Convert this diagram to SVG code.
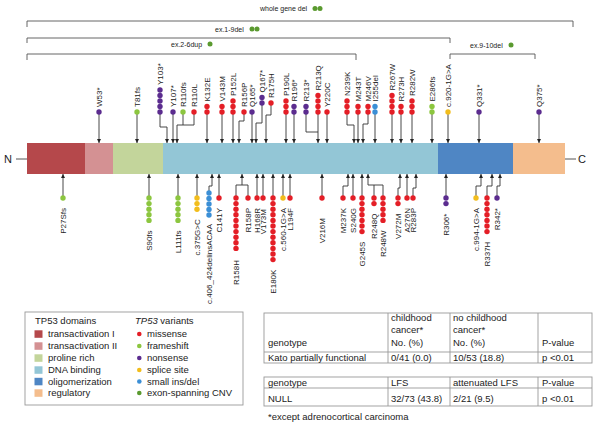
<svg xmlns="http://www.w3.org/2000/svg" width="600" height="425" viewBox="0 0 600 425">
<defs>
<marker id="ah" viewBox="0 0 6 6" refX="6" refY="3" markerWidth="4" markerHeight="4" orient="auto" markerUnits="userSpaceOnUse"><path d="M0,0 L6,3 L0,6 z" fill="#222"/></marker>
<style>
.lbl{font-family:"Liberation Sans",Arial,sans-serif;font-size:8px;fill:#222}
.lo{text-anchor:end}
.t{font-family:"Liberation Sans",Arial,sans-serif;font-size:9.5px;fill:#222}
.bt{font-family:"Liberation Sans",Arial,sans-serif;font-size:7px;fill:#222}
.m{fill:#e41e26}.f{fill:#8cc63f}.n{fill:#5b2c8f}.s{fill:#f2bd1c}.d{fill:#3b8fd6}.c{fill:#5a9a2f}
.cn{fill:none;stroke:#333;stroke-width:0.9}
.arr{marker-end:url(#ah)}
.br{fill:none;stroke:#555;stroke-width:0.9}
.tb{fill:none;stroke:#999;stroke-width:0.9}
</style>
</defs>
<rect width="600" height="425" fill="#fff"/>

<!-- CNV brackets -->
<g id="cnv">
<path class="br" d="M27,27 V21 H573 V27"/>
<text class="bt" x="260" y="11">whole gene del</text>
<circle class="c" cx="315" cy="8.5" r="2.5"/><circle class="c" cx="320" cy="8.5" r="2.5"/>
<path class="br" d="M27,43 V38 H450 V43"/>
<text class="bt" x="215" y="31.5">ex.1-9del</text>
<circle class="c" cx="252" cy="29" r="2.5"/><circle class="c" cx="257" cy="29" r="2.5"/>
<path class="br" d="M27,60 V54 H356 V60"/>
<text class="bt" x="171" y="46.5">ex.2-6dup</text>
<circle class="c" cx="210" cy="44" r="2.5"/>
<path class="br" d="M450,59 V54 H535 V59"/>
<text class="bt" x="470" y="47.5">ex.9-10del</text>
<circle class="c" cx="511" cy="45" r="2.5"/>
</g>

<!-- protein -->
<g id="protein">
<line x1="16" y1="159" x2="27" y2="159" stroke="#555" stroke-width="1"/>
<line x1="565" y1="159" x2="576" y2="159" stroke="#555" stroke-width="1"/>
<text class="t" x="4" y="163" style="font-size:11px">N</text>
<text class="t" x="578" y="163" style="font-size:11px">C</text>
<rect x="27" y="143" width="58" height="31" fill="#b5484b"/>
<rect x="85" y="143" width="28" height="31" fill="#d49193"/>
<rect x="113" y="143" width="50" height="31" fill="#c3d59b"/>
<rect x="163" y="143" width="275" height="31" fill="#93c6d6"/>
<rect x="438" y="143" width="75" height="31" fill="#4f86c4"/>
<rect x="513" y="143" width="52" height="31" fill="#f4bd8d"/>
</g>

<g id="connectors">
<path class="cn arr" d="M99,112 V143"/>
<path class="cn arr" d="M137,112 V143"/>
<path class="cn arr" d="M160,112 V127 H167 V143"/>
<path class="cn arr" d="M173,112 V143"/>
<path class="cn" d="M183,112 V125"/>
<path class="cn arr" d="M194,112 V125 H177 V143"/>
<path class="cn arr" d="M207,112 V143"/>
<path class="cn arr" d="M222,112 V143"/>
<path class="cn arr" d="M233,112 V143"/>
<path class="cn arr" d="M244,112 V121 H239 V143"/>
<path class="cn arr" d="M252,112 V143"/>
<path class="cn arr" d="M262,103 V123 H256 V143"/>
<path class="cn arr" d="M271,103 V115 H266 V143"/>
<path class="cn arr" d="M286,112 V143"/>
<path class="cn arr" d="M294,112 V143"/>
<path class="cn" d="M306,112 V132 H318"/>
<path class="cn arr" d="M318,112 V143"/>
<path class="cn arr" d="M327,112 V143"/>
<path class="cn arr" d="M347,112 V125 H354 V143"/>
<path class="cn arr" d="M358,112 V143"/>
<path class="cn arr" d="M368,112 V124 H363 V143"/>
<path class="cn arr" d="M375,112 V143"/>
<path class="cn arr" d="M392,112 V143"/>
<path class="cn arr" d="M401,112 V143"/>
<path class="cn arr" d="M412,112 V143"/>
<path class="cn arr" d="M432,112 V143"/>
<path class="cn arr" d="M448,112 V143"/>
<path class="cn arr" d="M479,112 V143"/>
<path class="cn arr" d="M539,112 V143"/>

<path class="cn arr" d="M63,198 V174"/>
<path class="cn arr" d="M149,198 V174"/>
<path class="cn arr" d="M178,198 V174"/>
<path class="cn arr" d="M197,198 V174"/>
<path class="cn arr" d="M209,193 V186 H212 V174"/>
<path class="cn arr" d="M219,198 V174"/>
<path class="cn" d="M236,198 V185 H248 V198"/>
<path class="cn arr" d="M242,185 V174"/>
<path class="cn arr" d="M257,198 V174"/>
<path class="cn arr" d="M263,198 V174"/>
<path class="cn arr" d="M273,198 V174"/>
<path class="cn arr" d="M283,198 V174"/>
<path class="cn arr" d="M290,198 V174"/>
<path class="cn arr" d="M322,198 V174"/>
<path class="cn arr" d="M343,198 V186 H348 V174"/>
<path class="cn arr" d="M353,198 V174"/>
<path class="cn arr" d="M362,198 V174"/>
<path class="cn" d="M374,198 V185"/>
<path class="cn arr" d="M383,198 V185 H368 V174"/>
<path class="cn arr" d="M398,198 V188 H400 V174"/>
<path class="cn arr" d="M407,198 V174"/>
<path class="cn arr" d="M413,198 V188 H416 V174"/>
<path class="cn arr" d="M446,198 V174"/>
<path class="cn arr" d="M476,198 V186 H481 V174"/>
<path class="cn arr" d="M487,198 V186 H492 V174"/>
<path class="cn arr" d="M497,198 V186 H500 V174"/>
</g>

<!-- upper variants -->
<g id="W53"><circle class="n" cx="99" cy="112" r="2.7"/><text class="lbl" transform="translate(102,107) rotate(-90)">W53*</text></g>
<g id="T81fs"><circle class="f" cx="137" cy="112" r="2.7"/><text class="lbl" transform="translate(140,107) rotate(-90)">T81fs</text></g>
<g id="Y103"><circle class="n" cx="160" cy="112" r="2.7"/><circle class="n" cx="160" cy="106.5" r="2.7"/><circle class="n" cx="160" cy="101" r="2.7"/><circle class="n" cx="160" cy="95.5" r="2.7"/><circle class="n" cx="160" cy="90" r="2.7"/><text class="lbl" transform="translate(163,85) rotate(-90)">Y103*</text></g>
<g id="Y107"><circle class="n" cx="173" cy="112" r="2.7"/><text class="lbl" transform="translate(176,107) rotate(-90)">Y107*</text></g>
<g id="R110fs"><circle class="f" cx="183" cy="112" r="2.7"/><text class="lbl" transform="translate(186,107) rotate(-90)">R110fs</text></g>
<g id="R110L"><circle class="m" cx="194" cy="112" r="2.7"/><text class="lbl" transform="translate(197,107) rotate(-90)">R110L</text></g>
<g id="K132E"><circle class="m" cx="207" cy="112" r="2.7"/><circle class="m" cx="207" cy="106.5" r="2.7"/><text class="lbl" transform="translate(210,101.5) rotate(-90)">K132E</text></g>
<g id="V143M"><circle class="m" cx="222" cy="112" r="2.7"/><circle class="m" cx="222" cy="106.5" r="2.7"/><text class="lbl" transform="translate(225,101.5) rotate(-90)">V143M</text></g>
<g id="P152L"><circle class="m" cx="233" cy="112" r="2.7"/><circle class="m" cx="233" cy="106.5" r="2.7"/><circle class="m" cx="233" cy="101" r="2.7"/><text class="lbl" transform="translate(236,96) rotate(-90)">P152L</text></g>
<g id="R156P"><circle class="m" cx="244" cy="112" r="2.7"/><text class="lbl" transform="translate(247,107) rotate(-90)">R156P</text></g>
<g id="Q165"><circle class="n" cx="252" cy="112" r="2.7"/><text class="lbl" transform="translate(255,107) rotate(-90)">Q165*</text></g>
<g id="Q167"><circle class="n" cx="262" cy="103" r="2.7"/><circle class="n" cx="262" cy="97.5" r="2.7"/><text class="lbl" transform="translate(265,92.5) rotate(-90)">Q167*</text></g>
<g id="R175H"><circle class="m" cx="271" cy="103" r="2.7"/><text class="lbl" transform="translate(274,98) rotate(-90)">R175H</text></g>
<g id="P190L"><circle class="m" cx="286" cy="112" r="2.7"/><circle class="m" cx="286" cy="106.5" r="2.7"/><circle class="m" cx="286" cy="101" r="2.7"/><text class="lbl" transform="translate(289,96) rotate(-90)">P190L</text></g>
<g id="R196"><circle class="n" cx="294" cy="112" r="2.7"/><circle class="n" cx="294" cy="106.5" r="2.7"/><text class="lbl" transform="translate(297,101.5) rotate(-90)">R196*</text></g>
<g id="R213x"><circle class="n" cx="306" cy="112" r="2.7"/><circle class="n" cx="306" cy="106.5" r="2.7"/><text class="lbl" transform="translate(309,101.5) rotate(-90)">R213*</text></g>
<g id="R213Q"><circle class="m" cx="318" cy="112" r="2.7"/><circle class="m" cx="318" cy="106.5" r="2.7"/><circle class="m" cx="318" cy="101" r="2.7"/><circle class="m" cx="318" cy="95.5" r="2.7"/><text class="lbl" transform="translate(321,90.5) rotate(-90)">R213Q</text></g>
<g id="Y220C"><circle class="m" cx="327" cy="112" r="2.7"/><text class="lbl" transform="translate(330,107) rotate(-90)">Y220C</text></g>
<g id="N239K"><circle class="m" cx="347" cy="112" r="2.7"/><circle class="m" cx="347" cy="106.5" r="2.7"/><circle class="m" cx="347" cy="101" r="2.7"/><text class="lbl" transform="translate(350,96) rotate(-90)">N239K</text></g>
<g id="M243T"><circle class="m" cx="358" cy="112" r="2.7"/><circle class="m" cx="358" cy="106.5" r="2.7"/><text class="lbl" transform="translate(361,101.5) rotate(-90)">M243T</text></g>
<g id="M246V"><circle class="m" cx="368" cy="112" r="2.7"/><circle class="m" cx="368" cy="106.5" r="2.7"/><text class="lbl" transform="translate(371,101.5) rotate(-90)">M246V</text></g>
<g id="I255del"><circle class="d" cx="375" cy="112" r="2.7"/><circle class="d" cx="375" cy="106.5" r="2.7"/><text class="lbl" transform="translate(378,101.5) rotate(-90)">I255del</text></g>
<g id="R267W"><circle class="m" cx="392" cy="112" r="2.7"/><circle class="m" cx="392" cy="106.5" r="2.7"/><circle class="m" cx="392" cy="101" r="2.7"/><circle class="m" cx="392" cy="95.5" r="2.7"/><text class="lbl" transform="translate(395,90.5) rotate(-90)">R267W</text></g>
<g id="R273H"><circle class="m" cx="401" cy="112" r="2.7"/><circle class="m" cx="401" cy="106.5" r="2.7"/><text class="lbl" transform="translate(404,101.5) rotate(-90)">R273H</text></g>
<g id="R282W"><circle class="m" cx="412" cy="112" r="2.7"/><circle class="m" cx="412" cy="106.5" r="2.7"/><circle class="m" cx="412" cy="101" r="2.7"/><text class="lbl" transform="translate(415,96) rotate(-90)">R282W</text></g>
<g id="E286fs"><circle class="f" cx="432" cy="112" r="2.7"/><circle class="f" cx="432" cy="106.5" r="2.7"/><text class="lbl" transform="translate(435,101.5) rotate(-90)">E286fs</text></g>
<g id="c920"><circle class="s" cx="448" cy="112" r="2.7"/><text class="lbl" transform="translate(451,107) rotate(-90)">c.920-1G&gt;A</text></g>
<g id="Q331"><circle class="n" cx="479" cy="112" r="2.7"/><text class="lbl" transform="translate(482,107) rotate(-90)">Q331*</text></g>
<g id="Q375"><circle class="n" cx="539" cy="112" r="2.7"/><text class="lbl" transform="translate(542,107) rotate(-90)">Q375*</text></g>

<!-- lower variants -->
<g id="P27Sfs"><circle class="f" cx="63" cy="198" r="2.7"/><text class="lbl lo" transform="translate(66,208) rotate(-90)">P27Sfs</text></g>
<g id="S90fs"><circle class="f" cx="149" cy="198" r="2.7"/><circle class="f" cx="149" cy="203.6" r="2.7"/><circle class="f" cx="149" cy="209.2" r="2.7"/><circle class="f" cx="149" cy="214.8" r="2.7"/><circle class="f" cx="149" cy="220.4" r="2.7"/><text class="lbl lo" transform="translate(152,230.4) rotate(-90)">S90fs</text></g>
<g id="L111fs"><circle class="f" cx="178" cy="198" r="2.7"/><circle class="f" cx="178" cy="203.6" r="2.7"/><circle class="f" cx="178" cy="209.2" r="2.7"/><circle class="f" cx="178" cy="214.8" r="2.7"/><circle class="f" cx="178" cy="220.4" r="2.7"/><text class="lbl lo" transform="translate(181,230.4) rotate(-90)">L111fs</text></g>
<g id="c375"><circle class="s" cx="197" cy="198" r="2.7"/><circle class="s" cx="197" cy="203.6" r="2.7"/><circle class="s" cx="197" cy="209.2" r="2.7"/><text class="lbl lo" transform="translate(200,219.2) rotate(-90)">c.375G&gt;C</text></g>
<g id="c406"><circle class="d" cx="209" cy="193" r="2.7"/><circle class="d" cx="209" cy="198.5" r="2.7"/><circle class="d" cx="209" cy="204" r="2.7"/><circle class="d" cx="209" cy="209.5" r="2.7"/><circle class="d" cx="209" cy="215" r="2.7"/><text class="lbl lo" transform="translate(212,224) rotate(-90)">c.406_424delinsACAA</text></g>
<g id="C141Y"><circle class="m" cx="219" cy="198" r="2.7"/><text class="lbl lo" transform="translate(222,208) rotate(-90)">C141Y</text></g>
<g id="R158H"><circle class="m" cx="236" cy="198" r="2.7"/><circle class="m" cx="236" cy="203.6" r="2.7"/><circle class="m" cx="236" cy="209.2" r="2.7"/><circle class="m" cx="236" cy="214.8" r="2.7"/><circle class="m" cx="236" cy="220.4" r="2.7"/><circle class="m" cx="236" cy="226" r="2.7"/><circle class="m" cx="236" cy="231.6" r="2.7"/><circle class="m" cx="236" cy="237.2" r="2.7"/><circle class="m" cx="236" cy="242.8" r="2.7"/><circle class="m" cx="236" cy="248.4" r="2.7"/><text class="lbl lo" transform="translate(239,260) rotate(-90)">R158H</text></g>
<g id="R158P"><circle class="m" cx="248" cy="198" r="2.7"/><text class="lbl lo" transform="translate(251,208) rotate(-90)">R158P</text></g>
<g id="H168R"><circle class="m" cx="257" cy="198" r="2.7"/><text class="lbl lo" transform="translate(260,208) rotate(-90)">H168R</text></g>
<g id="V173M"><circle class="m" cx="263" cy="198" r="2.7"/><text class="lbl lo" transform="translate(266,209) rotate(-90)">V173M</text></g>
<g id="E180K"><circle class="m" cx="273" cy="198" r="2.7"/><circle class="m" cx="273" cy="203.6" r="2.7"/><circle class="m" cx="273" cy="209.2" r="2.7"/><circle class="m" cx="273" cy="214.8" r="2.7"/><circle class="m" cx="273" cy="220.4" r="2.7"/><circle class="m" cx="273" cy="226" r="2.7"/><circle class="m" cx="273" cy="231.6" r="2.7"/><circle class="m" cx="273" cy="237.2" r="2.7"/><circle class="m" cx="273" cy="242.8" r="2.7"/><circle class="m" cx="273" cy="248.4" r="2.7"/><circle class="m" cx="273" cy="254" r="2.7"/><circle class="m" cx="273" cy="259.6" r="2.7"/><text class="lbl lo" transform="translate(276,269.6) rotate(-90)">E180K</text></g>
<g id="c560"><circle class="s" cx="283" cy="198" r="2.7"/><text class="lbl lo" transform="translate(286,208) rotate(-90)">c.560-1G&gt;A</text></g>
<g id="L194F"><circle class="m" cx="290" cy="198" r="2.7"/><text class="lbl lo" transform="translate(293,208) rotate(-90)">L194F</text></g>
<g id="V216M"><circle class="m" cx="322" cy="198" r="2.7"/><text class="lbl lo" transform="translate(325,218) rotate(-90)">V216M</text></g>
<g id="M237K"><circle class="m" cx="343" cy="198" r="2.7"/><text class="lbl lo" transform="translate(346,208) rotate(-90)">M237K</text></g>
<g id="S240G"><circle class="m" cx="353" cy="198" r="2.7"/><text class="lbl lo" transform="translate(356,208) rotate(-90)">S240G</text></g>
<g id="G245S"><circle class="m" cx="362" cy="198" r="2.7"/><circle class="m" cx="362" cy="203.6" r="2.7"/><circle class="m" cx="362" cy="209.2" r="2.7"/><circle class="m" cx="362" cy="214.8" r="2.7"/><circle class="m" cx="362" cy="220.4" r="2.7"/><circle class="m" cx="362" cy="226" r="2.7"/><circle class="m" cx="362" cy="231.6" r="2.7"/><text class="lbl lo" transform="translate(365,241.6) rotate(-90)">G245S</text></g>
<g id="R248Q"><circle class="m" cx="374" cy="198" r="2.7"/><circle class="m" cx="374" cy="203.6" r="2.7"/><text class="lbl lo" transform="translate(377,213.6) rotate(-90)">R248Q</text></g>
<g id="R248W"><circle class="m" cx="383" cy="198" r="2.7"/><circle class="m" cx="383" cy="203.6" r="2.7"/><circle class="m" cx="383" cy="209.2" r="2.7"/><circle class="m" cx="383" cy="214.8" r="2.7"/><circle class="m" cx="383" cy="220.4" r="2.7"/><text class="lbl lo" transform="translate(386,230.4) rotate(-90)">R248W</text></g>
<g id="V272M"><circle class="m" cx="398" cy="198" r="2.7"/><circle class="m" cx="398" cy="203.6" r="2.7"/><text class="lbl lo" transform="translate(401,213.6) rotate(-90)">V272M</text></g>
<g id="A276N"><circle class="m" cx="407" cy="198" r="2.7"/><text class="lbl lo" transform="translate(410,208) rotate(-90)">A276N</text></g>
<g id="R283P"><circle class="m" cx="413" cy="198" r="2.7"/><text class="lbl lo" transform="translate(416,208) rotate(-90)">R283P</text></g>
<g id="R306"><circle class="n" cx="446" cy="198" r="2.7"/><circle class="n" cx="446" cy="203.6" r="2.7"/><text class="lbl lo" transform="translate(449,213.6) rotate(-90)">R306*</text></g>
<g id="c994"><circle class="s" cx="476" cy="198" r="2.7"/><text class="lbl lo" transform="translate(479,208) rotate(-90)">c.994-1G&gt;A</text></g>
<g id="R337H"><circle class="m" cx="487" cy="198" r="2.7"/><circle class="m" cx="487" cy="203.6" r="2.7"/><circle class="m" cx="487" cy="209.2" r="2.7"/><circle class="m" cx="487" cy="214.8" r="2.7"/><circle class="m" cx="487" cy="220.4" r="2.7"/><circle class="m" cx="487" cy="226" r="2.7"/><circle class="m" cx="487" cy="231.6" r="2.7"/><text class="lbl lo" transform="translate(490,241.6) rotate(-90)">R337H</text></g>
<g id="R342"><circle class="n" cx="497" cy="198" r="2.7"/><text class="lbl lo" transform="translate(500,208) rotate(-90)">R342*</text></g>

<!-- legend -->
<g id="legend">
<rect x="25" y="312" width="218" height="93" fill="#fff" stroke="#999" stroke-width="0.9"/>
<text class="t" x="35" y="323.5">TP53 domains</text>
<rect x="34.5" y="330.3" width="8" height="7.5" fill="#b5484b"/><text class="t" x="48" y="337.3">transactivation I</text>
<rect x="34.5" y="342.3" width="8" height="7.5" fill="#d49193"/><text class="t" x="48" y="349.3">transactivation II</text>
<rect x="34.5" y="354.3" width="8" height="7.5" fill="#c3d59b"/><text class="t" x="48" y="361.3">proline rich</text>
<rect x="34.5" y="366.3" width="8" height="7.5" fill="#93c6d6"/><text class="t" x="48" y="373.3">DNA binding</text>
<rect x="34.5" y="377.8" width="8" height="7.5" fill="#4f86c4"/><text class="t" x="48" y="384.8">oligomerization</text>
<rect x="34.5" y="389.3" width="8" height="7.5" fill="#f4bd8d"/><text class="t" x="48" y="396.3">regulatory</text>
<text class="t" x="135" y="323.5"><tspan font-style="italic">TP53</tspan> variants</text>
<circle class="m" cx="139.3" cy="334" r="2.3"/><text class="t" x="147" y="337.3">missense</text>
<circle class="f" cx="139.3" cy="346" r="2.3"/><text class="t" x="147" y="349.3">frameshift</text>
<circle class="n" cx="139.3" cy="358" r="2.3"/><text class="t" x="147" y="361.3">nonsense</text>
<circle class="s" cx="139.3" cy="370" r="2.3"/><text class="t" x="147" y="373.3">splice site</text>
<circle class="d" cx="139.3" cy="381.5" r="2.3"/><text class="t" x="147" y="384.8">small ins/del</text>
<circle class="c" cx="139.3" cy="393" r="2.3"/><text class="t" x="147" y="396.3">exon-spanning CNV</text>
</g>

<!-- table 1 -->
<g id="table1">
<rect class="tb" x="264" y="313" width="328" height="50"/>
<path class="tb" d="M264,352 H592 M388,313 V363 M450,313 V363 M538,313 V363"/>
<text class="t" x="268" y="346">genotype</text>
<text class="t" x="391" y="320.5">childhood</text>
<text class="t" x="391" y="333">cancer*</text>
<text class="t" x="391" y="346">No. (%)</text>
<text class="t" x="453" y="320.5">no childhood</text>
<text class="t" x="453" y="333">cancer*</text>
<text class="t" x="453" y="346">No. (%)</text>
<text class="t" x="542" y="346">P-value</text>
<text class="t" x="268" y="360.5">Kato partially functional</text>
<text class="t" x="391" y="360.5">0/41 (0.0)</text>
<text class="t" x="453" y="360.5">10/53 (18.8)</text>
<text class="t" x="542" y="360.5">p &lt;0.01</text>
</g>

<!-- table 2 -->
<g id="table2">
<rect class="tb" x="264" y="377" width="328" height="29"/>
<path class="tb" d="M264,388 H592 M388,377 V406 M450,377 V406 M538,377 V406"/>
<text class="t" x="268" y="386.3">genotype</text>
<text class="t" x="391" y="386.3">LFS</text>
<text class="t" x="453" y="386.3">attenuated LFS</text>
<text class="t" x="542" y="386.3">P-value</text>
<text class="t" x="268" y="402.3">NULL</text>
<text class="t" x="391" y="402.3">32/73 (43.8)</text>
<text class="t" x="453" y="402.3">2/21 (9.5)</text>
<text class="t" x="542" y="402.3">p &lt;0.01</text>
</g>
<text id="footnote" class="t" x="268" y="420">*except adrenocortical carcinoma</text>
</svg>
